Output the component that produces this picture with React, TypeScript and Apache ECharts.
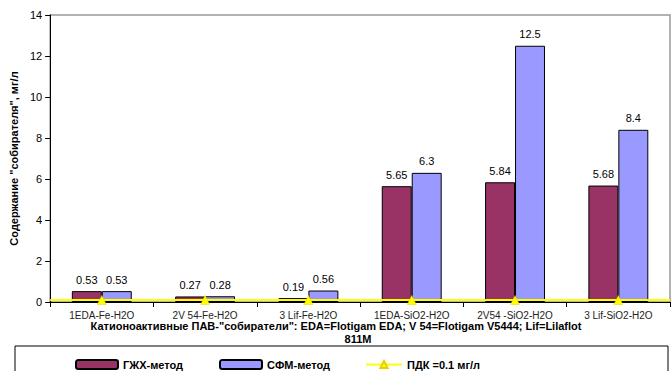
import React, { useEffect, useRef } from "react";
import * as echarts from "echarts";

const categories = ["1EDA-Fe-H2O", "2V 54-Fe-H2O", "3 Lif-Fe-H2O", "1EDA-SiO2-H2O", "2V54 -SiO2-H2O", "3 Lif-SiO2-H2O"];
const gzhValues = [0.53, 0.27, 0.19, 5.65, 5.84, 5.68];
const sfmValues = [0.53, 0.28, 0.56, 6.3, 12.5, 8.4];
const pdkValues = [0.1, 0.1, 0.1, 0.1, 0.1, 0.1];
const yTicks = { min: 0, max: 14, interval: 2 };
const xTitleLine1 = "Катионоактивные ПАВ-\"собиратели\": EDA=Flotigam EDA; V 54=Flotigam V5444; Lif=Lilaflot";
const xTitleLine2 = "811M";
const yTitle = "Содержание \"собирателя\", мг/л";
const seriesNames = ["ГЖХ-метод", "СФМ-метод", "ПДК =0.1 мг/л"];

const FONT = "Arial, 'Liberation Sans', sans-serif";

export default function App() {
  const ref = useRef<HTMLDivElement>(null);
  useEffect(() => {
    if (!ref.current) return;
    const chart = echarts.init(ref.current, undefined, { renderer: "svg" });
    const labelStyle = {
      show: true,
      position: "top" as const,
      fontFamily: FONT,
      fontSize: 11,
      color: "#000",
      distance: 6,
    };
    const legendText = { fontFamily: FONT, fontSize: 11, fontWeight: "bold" as const, color: "#000" };
    const titleStyle = {
      fontFamily: FONT,
      fontSize: 11,
      fontWeight: "bold" as const,
      fill: "#000",
      align: "center" as const,
      verticalAlign: "middle" as const,
    };
    chart.setOption({
      animation: false,
      backgroundColor: "#fff",
      textStyle: { fontFamily: FONT },
      grid: {
        left: 47,
        right: 2,
        top: 15,
        bottom: 69,
        show: true,
        borderColor: "#999",
        borderWidth: 1.5,
        containLabel: false,
      },
      legend: [
        {
          data: [seriesNames[0]],
          left: 75,
          top: 359,
          padding: 0,
          itemWidth: 42,
          itemHeight: 9,
          textStyle: legendText,
        },
        {
          data: [seriesNames[1]],
          left: 219,
          top: 359,
          padding: 0,
          itemWidth: 42,
          itemHeight: 9,
          textStyle: legendText,
        },
        {
          data: [seriesNames[2]],
          left: 365,
          top: 359,
          padding: 0,
          itemWidth: 36,
          itemHeight: 9,
          textStyle: legendText,
        },
      ],
      graphic: [
        {
          type: "rect",
          shape: { x: 15, y: 346, width: 653, height: 40 },
          style: { fill: "none", stroke: "#000", lineWidth: 1 },
          silent: true,
        },
        {
          type: "text",
          x: 336,
          y: 326,
          style: { ...titleStyle, text: xTitleLine1 },
          silent: true,
        },
        {
          type: "text",
          x: 358,
          y: 339,
          style: { ...titleStyle, text: xTitleLine2 },
          silent: true,
        },
      ],
      xAxis: {
        type: "category",
        data: categories,
        axisLine: { lineStyle: { color: "#000", width: 1 } },
        axisTick: { show: true, alignWithLabel: false, length: 5, lineStyle: { color: "#000" } },
        axisLabel: { fontFamily: FONT, fontSize: 10, color: "#222", margin: 8, interval: 0 },
      },
      yAxis: {
        type: "value",
        min: yTicks.min,
        max: yTicks.max,
        interval: yTicks.interval,
        name: yTitle,
        nameLocation: "middle",
        nameGap: 30,
        nameTextStyle: { fontFamily: FONT, fontSize: 11, fontWeight: "bold", color: "#000" },
        axisLine: { show: true, lineStyle: { color: "#000", width: 1 } },
        axisTick: { show: true, length: 5, lineStyle: { color: "#000" } },
        axisLabel: { fontFamily: FONT, fontSize: 11, color: "#000", margin: 8 },
        splitLine: { show: false },
      },
      series: [
        {
          name: seriesNames[0],
          type: "bar",
          data: gzhValues,
          barGap: "0%",
          barCategoryGap: "42%",
          itemStyle: { color: "#993366", borderColor: "#000", borderWidth: 1 },
          label: labelStyle,
        },
        {
          name: seriesNames[1],
          type: "bar",
          data: sfmValues,
          itemStyle: { color: "#9999FF", borderColor: "#000", borderWidth: 1 },
          label: labelStyle,
        },
        {
          name: seriesNames[2],
          type: "line",
          data: pdkValues,
          symbol: "triangle",
          symbolSize: 9,
          itemStyle: { color: "#FFFF00", borderColor: "#E6D000", borderWidth: 0.5 },
          lineStyle: { color: "#FFFF00", width: 2 },
          z: 5,
          markLine: {
            silent: true,
            symbol: "none",
            label: { show: false },
            lineStyle: { color: "#FFFF00", width: 2, type: "solid" },
            data: [{ yAxis: pdkValues[0] }],
          },
        },
      ],
    });
    return () => chart.dispose();
  }, []);
  return (
    <div
      ref={ref}
      style={{ position: "absolute", left: 0, top: 0, width: 672, height: 371, overflow: "hidden" }}
    />
  );
}
